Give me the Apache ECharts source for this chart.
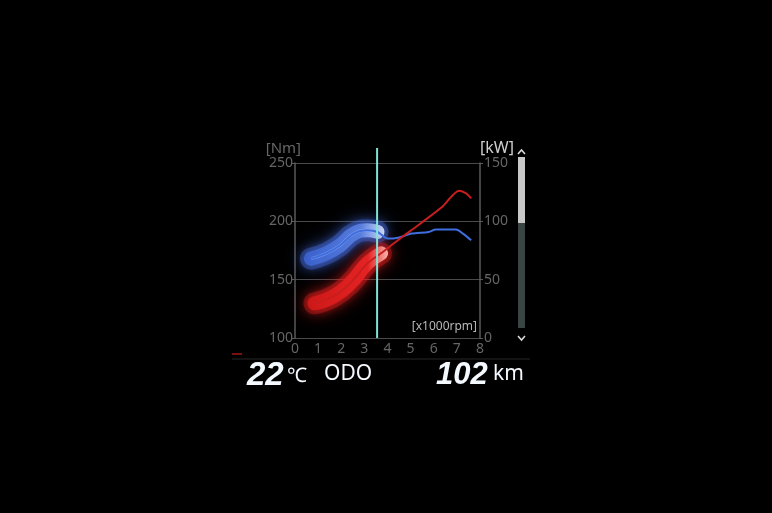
<!DOCTYPE html>
<html><head><meta charset="utf-8">
<script src="https://cdn.jsdelivr.net/npm/echarts@6/dist/echarts.min.js"></script>
<style>html,body{margin:0;padding:0;background:#000;}#c{width:772px;height:513px;}</style>
</head><body><div id="c"></div>
<script>
// Data
const xTicks = ['0','1','2','3','4','5','6','7','8'];
const torqueRpm = [0.69, 1.36, 1.95, 2.54, 3.13, 3.57, 4.01, 4.46, 5.04, 5.78, 6.08, 6.96, 7.26, 7.62];
const torqueNm  = [168, 172.5, 179.5, 189.5, 192.3, 190.9, 185.2, 186, 189.5, 190.9, 192.9, 192.9, 189.5, 183.8];
const powerRpm  = [0.84, 1.65, 2.39, 3.13, 3.72, 4.46, 5.34, 6.37, 7.11, 7.4, 7.62];
const powerKw   = [29.7, 35.4, 46.9, 64, 72.6, 84, 96.9, 112.5, 126.3, 124, 119.7];
const cursorRpm = 3.55;
const glowEndRpm = 3.75;

const torquePts = torqueRpm.map((r,i)=>[r,torqueNm[i]]);
const powerPts = powerRpm.map((r,i)=>[r,powerKw[i]]);
const torqueGlow = torquePts.filter(p=>p[0]<=glowEndRpm);
const powerGlow = powerPts.filter(p=>p[0]<=glowEndRpm);

const chart = echarts.init(document.getElementById('c'));
const lbl = {color:'#666', fontSize:14, fontFamily:'Noto Sans'};
chart.setOption({
  backgroundColor:'#000',
  animation:false,
  grid:{left:295, right:292, top:163, bottom:175},
  xAxis:{type:'value', min:0, max:8, interval:1,
    axisLine:{show:false}, axisTick:{show:false}, splitLine:{show:false},
    axisLabel:{...lbl, margin:4, formatter:v=>xTicks[v]}},
  yAxis:[
    {type:'value', min:100, max:250, interval:50, position:'left',
     name:'[Nm]', nameGap:6, nameTextStyle:{color:'#666', fontSize:15, align:'right', padding:[0,-6,0,0], fontFamily:'Noto Sans'},
     axisLine:{show:true, lineStyle:{color:'#5a5a5a', width:1.5}},
     axisTick:{show:true, length:3, lineStyle:{color:'#5a5a5a'}},
     splitLine:{show:true, lineStyle:{color:'#4a4a4a', width:1}},
     axisLabel:{...lbl, margin:2}},
    {type:'value', min:0, max:150, interval:50, position:'right',
     name:'[kW]', nameGap:6, nameTextStyle:{color:'#cfcfcf', fontSize:16, align:'left', padding:[0,0,0,0], fontFamily:'Noto Sans'},
     axisLine:{show:true, lineStyle:{color:'#5a5a5a', width:1.5}},
     axisTick:{show:true, length:3, lineStyle:{color:'#5a5a5a'}},
     splitLine:{show:false},
     axisLabel:{...lbl, margin:4}}
  ],
  series:[
    {type:'line', yAxisIndex:0, data:torqueGlow, symbol:'none', smooth:true, z:2,
     lineStyle:{width:22, cap:'round', opacity:0.35, color:'#4a70e0', shadowBlur:18, shadowColor:'rgba(70,110,230,1)'}},
    {type:'line', yAxisIndex:0, data:torqueGlow, symbol:'none', smooth:true, z:3,
     lineStyle:{width:14, cap:'round', opacity:0.9, color:new echarts.graphic.LinearGradient(0,0,1,0,[{offset:0,color:'#3a62d0'},{offset:0.7,color:'#5a80e0'},{offset:1,color:'#dfe8ff'}]),
       shadowBlur:12, shadowColor:'rgba(70,110,230,1)'}},
    {type:'line', yAxisIndex:0, data:torqueGlow, symbol:'none', smooth:true, z:4,
     lineStyle:{width:3, color:'rgba(160,185,245,0.5)'}},
    {type:'line', yAxisIndex:1, data:powerGlow, symbol:'none', smooth:true, z:2,
     lineStyle:{width:22, cap:'round', opacity:0.35, color:'#e02020', shadowBlur:18, shadowColor:'rgba(230,30,30,1)'}},
    {type:'line', yAxisIndex:1, data:powerGlow, symbol:'none', smooth:true, z:3,
     lineStyle:{width:14, cap:'round', opacity:0.92, color:new echarts.graphic.LinearGradient(0,0,1,0,[{offset:0,color:'#d01818'},{offset:0.75,color:'#e82424'},{offset:1,color:'#ffc0b8'}]),
       shadowBlur:12, shadowColor:'rgba(230,30,30,1)'}},
    {type:'line', yAxisIndex:0, data:torquePts, symbol:'none', smooth:0.3, z:5,
     lineStyle:{width:2, color:'#3e6ee0'}},
    {type:'line', yAxisIndex:1, data:powerPts, symbol:'none', smooth:0.3, z:5,
     lineStyle:{width:2, color:'#c81e1e'}}
  ]
});

const pTop = chart.convertToPixel({gridIndex:0},[cursorRpm,250]);
const pBot = chart.convertToPixel({gridIndex:0},[cursorRpm,100]);
const gR = chart.convertToPixel({gridIndex:0},[8,100]);
chart.setOption({graphic:[
  {type:'line', z:10, shape:{x1:pTop[0], y1:pTop[1]-15, x2:pBot[0], y2:pBot[1]}, style:{stroke:'#7fe3d8', lineWidth:2}},
  {type:'text', z:10, right:772-gR[0]+3, top:pBot[1]-17, style:{text:'[x1000rpm]', fill:'#b8b8b8', fontSize:12, fontFamily:'Noto Sans'}},
  // scroll bar
  {type:'rect', shape:{x:518, y:157, width:7, height:66}, style:{fill:'#c8c8c8'}},
  {type:'rect', shape:{x:518, y:223, width:7, height:105}, style:{fill:'#3a4442'}},
  {type:'polyline', shape:{points:[[518,154],[521.5,150],[525,154]]}, style:{stroke:'#dddddd', lineWidth:1.5, fill:null}},
  {type:'polyline', shape:{points:[[518,336],[521.5,340],[525,336]]}, style:{stroke:'#dddddd', lineWidth:1.5, fill:null}},
  // separator and status row
  {type:'line', shape:{x1:232, y1:359, x2:530, y2:359}, style:{stroke:'#262626', lineWidth:1}},
  {type:'line', shape:{x1:232, y1:354, x2:242, y2:354}, style:{stroke:'#a01818', lineWidth:1.5}},
  {type:'text', left:247, top:359, style:{text:'22', fill:'#f4f8ff', fontSize:33, fontWeight:'bold', fontStyle:'italic', fontFamily:'Liberation Sans'}},
  {type:'text', left:287, top:366, style:{text:'℃', fill:'#f4f8ff', fontSize:20, fontFamily:'Noto Sans'}},
  {type:'text', left:324, top:364, style:{text:'ODO', fill:'#f4f8ff', fontSize:21, fontFamily:'Noto Sans'}},
  {type:'text', left:436, top:360, style:{text:'102', fill:'#f4f8ff', fontSize:31, fontWeight:'bold', fontStyle:'italic', fontFamily:'Liberation Sans'}},
  {type:'text', left:493, top:364, style:{text:'km', fill:'#f4f8ff', fontSize:21, fontFamily:'Noto Sans'}}
]});
</script></body></html>
